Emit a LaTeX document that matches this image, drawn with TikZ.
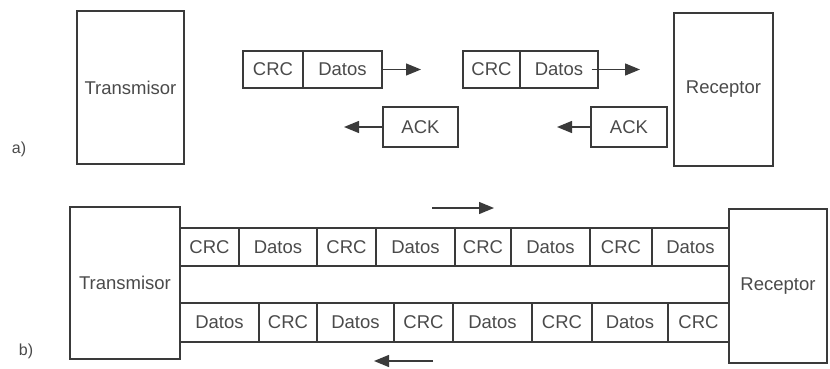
\documentclass[tikz,border=0pt]{standalone}
\usepackage{fontspec}
\setmainfont{Liberation Sans}
\usetikzlibrary{arrows.meta}
\definecolor{ln}{HTML}{3A3A3A}
\definecolor{tx}{HTML}{4A4A4A}
\tikzset{
  box/.style={draw=ln, line width=1.3pt, inner sep=0pt, text=tx, font=\fontsize{18.5}{18.5}\selectfont},
  arr/.style={draw=ln, line width=1.3pt, -{Triangle[length=15pt,width=12pt]}},
  lbl/.style={text=tx, font=\fontsize{16}{16}\selectfont, inner sep=0pt}
}
\begin{document}
\begin{tikzpicture}[x=1pt,y=-1pt]
\useasboundingbox (0,0) rectangle (830,369);
% ---------- a) ----------
\node[lbl] (la) at (19,149) {a)};
\node[box, minimum width=107pt, minimum height=153pt] (txA) at (130.5,87.5) {Transmisor};
\node[box, minimum width=99pt, minimum height=153pt] (rxA) at (723.5,89.5) {Receptor};
\node[box, minimum width=60pt, minimum height=37pt] (p1c) at (273,69.5) {CRC};
\node[box, minimum width=79pt, minimum height=37pt] (p1d) at (342.5,69.5) {Datos};
\coordinate (p1e) at (421,69.5);
\draw[arr] (p1d.east) -- (p1e);
\node[box, minimum width=75pt, minimum height=40pt] (ack1) at (420.5,127) {ACK};
\coordinate (ack1e) at (344,127);
\draw[arr] (ack1.west) -- (ack1e);
\node[box, minimum width=57pt, minimum height=37pt] (p2c) at (491.5,69.5) {CRC};
\node[box, minimum width=78pt, minimum height=37pt] (p2d) at (559,69.5) {Datos};
\coordinate (p2e) at (640,69.5);
\draw[arr] ([xshift=-7pt]p2d.east) -- (p2e);
\node[box, minimum width=76pt, minimum height=40pt] (ack2) at (629,127) {ACK};
\coordinate (ack2e) at (557,127);
\draw[arr] (ack2.west) -- (ack2e);
% ---------- b) ----------
\node[lbl] (lb) at (26,351) {b)};
\node[box, minimum width=110pt, minimum height=152pt] (txB) at (125,283) {Transmisor};
\node[box, minimum width=98pt, minimum height=154pt] (rxB) at (778,286) {Receptor};
% top row
\node[box, minimum width=59pt, minimum height=38pt] (t1) at (209.5,247) {CRC};
\node[box, minimum width=78pt, minimum height=38pt] (t2) at (278,247) {Datos};
\node[box, minimum width=59pt, minimum height=38pt] (t3) at (346.5,247) {CRC};
\node[box, minimum width=79pt, minimum height=38pt] (t4) at (415.5,247) {Datos};
\node[box, minimum width=56pt, minimum height=38pt] (t5) at (483,247) {CRC};
\node[box, minimum width=79pt, minimum height=38pt] (t6) at (550.5,247) {Datos};
\node[box, minimum width=62pt, minimum height=38pt] (t7) at (621,247) {CRC};
\node[box, minimum width=77pt, minimum height=38pt] (t8) at (690.5,247) {Datos};
% bottom row
\node[box, minimum width=79pt, minimum height=39pt] (b1) at (219.5,322.5) {Datos};
\node[box, minimum width=58pt, minimum height=39pt] (b2) at (288,322.5) {CRC};
\node[box, minimum width=77pt, minimum height=39pt] (b3) at (355.5,322.5) {Datos};
\node[box, minimum width=59pt, minimum height=39pt] (b4) at (423.5,322.5) {CRC};
\node[box, minimum width=79pt, minimum height=39pt] (b5) at (492.5,322.5) {Datos};
\node[box, minimum width=60pt, minimum height=39pt] (b6) at (562,322.5) {CRC};
\node[box, minimum width=76pt, minimum height=39pt] (b7) at (630,322.5) {Datos};
\node[box, minimum width=61pt, minimum height=39pt] (b8) at (698.5,322.5) {CRC};
% arrows
\coordinate (ts) at (432,208);
\coordinate (te) at (494,208);
\draw[arr] (ts) -- (te);
\coordinate (bs) at (433,361);
\coordinate (be) at (374,361);
\draw[arr] (bs) -- (be);
\end{tikzpicture}
\end{document}
